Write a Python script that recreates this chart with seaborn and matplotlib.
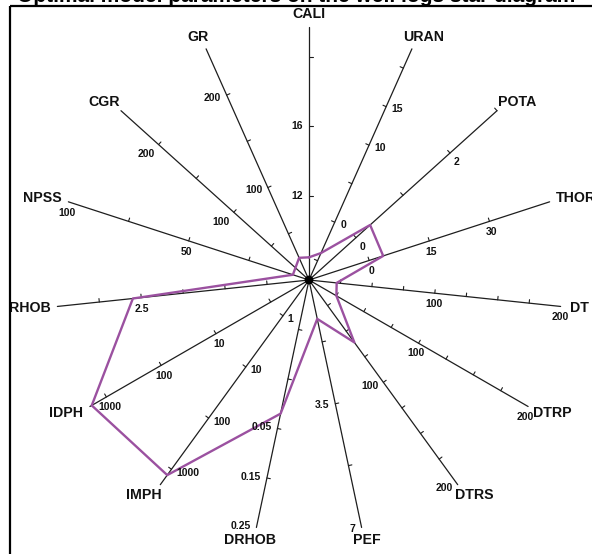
"""Star plot of model parameters drawn over the well log axes."""

import matplotlib.pyplot as plt
import numpy as np
import pandas as pd
import seaborn as sns
from matplotlib.patches import Rectangle

TITLE = "Optimal model parameters on the well logs star diagram"

LOG_NAMES = ["CALI", "URAN", "POTA", "THOR", "DT", "DTRP", "DTRS", "PEF",
             "DRHOB", "IMPH", "IDPH", "RHOB", "NPSS", "CGR", "GR"]
AXIS_MIN = [7.2, -7.5, -1, -15, 0, 0, 0, 0, -0.25, 0.2, 0.2, 1.5, 0, 0, 0]
AXIS_MAX = [21.7, 22.5, 3, 45, 200, 200, 200, 7, 0.25, 2000, 2000, 3.0, 100, 250, 250]
IS_LOG = [False] * 9 + [True, True] + [False] * 4

TICK_VALUES = [
    [12, 16, 20],
    [-5, 0, 5, 10, 15, 20],
    [0, 1, 2, 3],
    [0, 15, 30],
    [25, 50, 75, 100, 125, 150, 175],
    [25, 50, 75, 100, 125, 150, 175],
    [25, 50, 75, 100, 125, 150, 175],
    [1.75, 3.5, 5.25],
    [-0.15, -0.05, 0.05, 0.15],
    [1, 10, 100, 1000],
    [1, 10, 100, 1000],
    [1.75, 2.0, 2.25, 2.5, 2.75],
    [25, 50, 75],
    [50, 100, 150, 200],
    [50, 100, 150, 200],
]
LABEL_VALUES = [
    [12, 16],
    [0, 10, 15],
    [0, 2],
    [0, 15, 30],
    [100, 200],
    [100, 200],
    [100, 200],
    [3.5, 7],
    [0.05, 0.15, 0.25],
    [1, 10, 100, 1000],
    [10, 100, 1000],
    [2.5],
    [50, 100],
    [100, 200],
    [100, 200],
]

# Model curve, one value per log axis (same order as LOG_NAMES).
MODEL_VALUES = [8.5, -4.0, 0.3, 3.5, 22, 25, 61, 1.1, 0.02, 1300, 1850, 2.55, 6.7, 18, 24]

CENTER_X, CENTER_Y = 309, 280
RADIUS = 253
PURPLE = "#9b51a0"
SPOKE_COLOR = "#1e1e1e"


def axis_angle(i):
    return np.deg2rad(90 - 24 * i)


def to_radius(i, value):
    lo, hi = AXIS_MIN[i], AXIS_MAX[i]
    if IS_LOG[i]:
        frac = (np.log10(value) - np.log10(lo)) / (np.log10(hi) - np.log10(lo))
    else:
        frac = (value - lo) / (hi - lo)
    return frac * RADIUS


def to_xy(i, d):
    a = axis_angle(i)
    return CENTER_X + d * np.cos(a), CENTER_Y - d * np.sin(a)


def label_side(i):
    """Screen-space unit vector pointing to the side where tick labels sit."""
    a = axis_angle(i)
    deg = np.rad2deg(a)
    if -115 < deg < 80:
        mx, my = np.sin(a), -np.cos(a)
    else:
        mx, my = -np.sin(a), np.cos(a)
    return mx, -my


def align(sx, sy):
    ha = "left" if sx > 0.6 else "right" if sx < -0.6 else "center"
    va = "top" if sy > 0.6 else "bottom" if sy < -0.6 else "center"
    return ha, va


def main():
    sns.set_theme(style="white")
    plt.rcParams["font.family"] = ["Liberation Sans", "DejaVu Sans"]

    fig = plt.figure(figsize=(5.92, 5.54), dpi=100)
    ax = fig.add_axes([0, 0, 1, 1])
    ax.set_xlim(0, 592)
    ax.set_ylim(554, 0)
    ax.axis("off")

    for i, name in enumerate(LOG_NAMES):
        ex, ey = to_xy(i, RADIUS)
        ax.plot([CENTER_X, ex], [CENTER_Y, ey], color=SPOKE_COLOR, lw=0.9, zorder=2)

        sx, sy = label_side(i)
        for v in TICK_VALUES[i]:
            tx, ty = to_xy(i, to_radius(i, v))
            ax.plot([tx, tx - 3.5 * sx], [ty, ty - 3.5 * sy], color=SPOKE_COLOR,
                    lw=0.8, zorder=2)

        ha, va = align(sx, sy)
        for v in LABEL_VALUES[i]:
            tx, ty = to_xy(i, to_radius(i, v))
            ax.text(tx + 6 * sx, ty + 6 * sy, f"{v:g}", ha=ha, va=va,
                    fontsize=7.5, fontweight="bold", color="#111111", zorder=4)

        a = axis_angle(i)
        w = 8.9 * len(name)
        nx = ex + np.cos(a) * (w / 2 + 10)
        ny = ey - np.sin(a) * 13
        ax.text(nx, ny, name, ha="center", va="center", fontsize=10.2,
                fontweight="bold", color="#111111", zorder=4)

    pts = [to_xy(i, to_radius(i, v)) for i, v in enumerate(MODEL_VALUES)]
    pts.append(pts[0])
    model = pd.DataFrame(pts, columns=["x", "y"])
    sns.lineplot(data=model, x="x", y="y", sort=False, estimator=None,
                 color=PURPLE, lw=1.7, ax=ax, zorder=3)

    sns.scatterplot(x=[CENTER_X], y=[CENTER_Y], s=40, color="black",
                    edgecolor="none", ax=ax, zorder=5)

    ax.add_patch(Rectangle((10, 6), 590, 552, fill=False, lw=1.6,
                           edgecolor="black", zorder=6))
    ax.text(296, 1.5, TITLE, ha="center", va="baseline", fontsize=15,
            fontweight="bold", color="black")

    ax.set_xlim(0, 592)
    ax.set_ylim(554, 0)
    ax.set_xlabel("")
    ax.set_ylabel("")
    fig.savefig("out.png", dpi=100)
    plt.close(fig)


if __name__ == "__main__":
    main()
